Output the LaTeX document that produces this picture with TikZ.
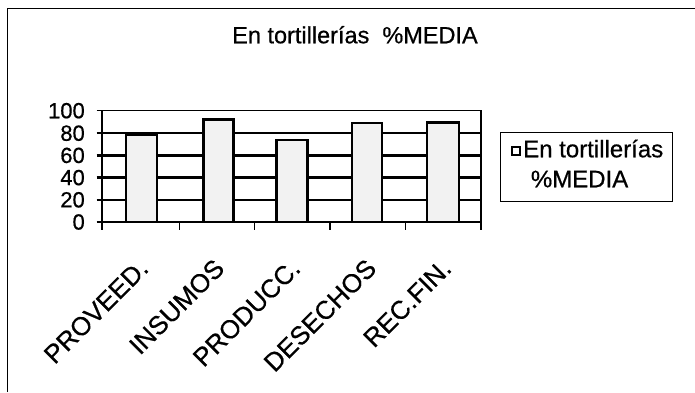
\documentclass[tikz,border=0pt]{standalone}
\usepackage{fontspec}
\setmainfont[FakeBold=0.6]{Liberation Sans}
\begin{document}
\begin{tikzpicture}[x=1pt, y=-1pt]
\tikzstyle{gridline}=[line width=2.4pt]
\tikzstyle{thinline}=[line width=1.2pt]
\tikzstyle{bar}=[draw, line width=2.8pt, fill=black!5]
\tikzstyle{ylab}=[anchor=east, inner sep=0pt, font=\fontsize{22}{24}\selectfont]
\tikzstyle{xlab}=[anchor=north east, rotate=45, inner sep=0pt, font=\fontsize{26}{28}\selectfont]
\tikzstyle{legtext}=[anchor=base west, inner sep=0pt, font=\fontsize{24}{26}\selectfont]
\useasboundingbox (0,0) rectangle (695,392);

% frame
\draw[thinline] (7.5,392) -- (7.5,8.3) -- (695,8.3);

\node[anchor=base, inner sep=0pt, font=\fontsize{23.5}{26}\selectfont] (title) at (355,43.3) {En tortillerías\ \ \%MEDIA};

% plot area
\draw[thinline] (96.5,110.7) -- (481,110.7) -- (481,222);
\draw[gridline] (96.5,133.2) -- (481,133.2);
\draw[gridline] (96.5,155.4) -- (481,155.4);
\draw[gridline] (96.5,177.6) -- (481,177.6);
\draw[gridline] (96.5,199.8) -- (481,199.8);
\draw[gridline] (102,110.7) -- (102,230);
\draw[gridline] (96.5,222) -- (481,222);

% ticks
\draw[thinline] (179.3,222) -- (179.3,230);
\draw[thinline] (254.6,222) -- (254.6,230);
\draw[thinline] (329.9,222) -- (329.9,230);
\draw[thinline] (405.2,222) -- (405.2,230);
\draw[thinline] (481,222) -- (481,230);

% bars
\draw[bar] (126,222) rectangle (157,134.1);
\draw[bar] (203.5,222) rectangle (233.5,119.3);
\draw[bar] (276.5,222) rectangle (307.5,140);
\draw[bar] (352,222) rectangle (382,123);
\draw[bar] (427,222) rectangle (459,122.3);

% y labels
\node[ylab] (y100) at (85,110.7) {100};
\node[ylab] (y80) at (85,133.2) {80};
\node[ylab] (y60) at (85,155.4) {60};
\node[ylab] (y40) at (85,177.6) {40};
\node[ylab] (y20) at (85,199.8) {20};
\node[ylab] (y0) at (85,222) {0};

% x labels
\node[xlab] (proveed) at (137,257) {PROVEED.};
\node[xlab] (insumos) at (213,257) {INSUMOS};
\node[xlab] (producc) at (289,257) {PRODUCC.};
\node[xlab] (desechos) at (365,257) {DESECHOS};
\node[xlab] (recfin) at (440,257) {REC.FIN.};

% legend
\node[draw, line width=1.4pt, minimum width=172pt, minimum height=69.4pt, inner sep=0pt] (legend) at (586.7,167) {};
\node[draw, line width=2.2pt, minimum size=8pt, inner sep=0pt] (key) at (516,150.8) {};
\node[legtext] (leg1) at (523,157.3) {En tortillerías};
\node[legtext] (leg2) at (530.7,187.3) {\%MEDIA};
\end{tikzpicture}
\end{document}
